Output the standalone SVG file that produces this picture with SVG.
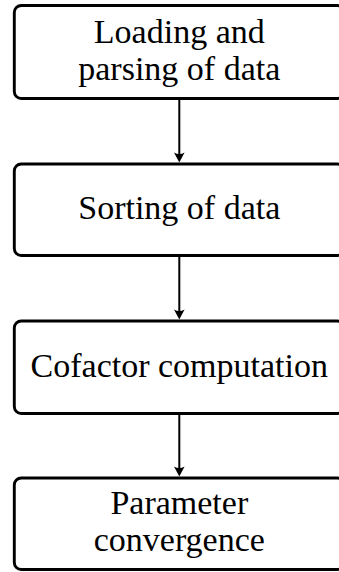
<svg xmlns="http://www.w3.org/2000/svg" width="339" height="572" viewBox="0 0 339 572">
  <defs>
    <style>
      .box { fill: #ffffff; stroke: #000000; stroke-width: 2.9; }
      .lbl { font-family: "Liberation Serif", "Times New Roman", serif; font-size: 34px; fill: #000000; text-anchor: middle; }
      .edge { stroke: #000000; stroke-width: 2; fill: none; }
      .head { fill: #000000; stroke: none; }
    </style>
  </defs>
  <rect width="339" height="572" fill="#ffffff"/>

  <!-- process steps -->
  <g id="load">
    <rect class="box" x="14.3" y="5.5" width="330" height="93" rx="7" ry="7"/>
    <text class="lbl" x="179.3" y="43">Loading and</text>
    <text class="lbl" x="179.3" y="80.3">parsing of data</text>
  </g>
  <g id="sort">
    <rect class="box" x="14.3" y="164" width="330" height="91.5" rx="7" ry="7"/>
    <text class="lbl" x="179.3" y="218.5">Sorting of data</text>
  </g>
  <g id="cofactor">
    <rect class="box" x="14.3" y="321" width="330" height="92.5" rx="7" ry="7"/>
    <text class="lbl" x="179.3" y="376.5">Cofactor computation</text>
  </g>
  <g id="converge">
    <rect class="box" x="14.3" y="478" width="330" height="91.5" rx="7" ry="7"/>
    <text class="lbl" x="179.3" y="513.5">Parameter</text>
    <text class="lbl" x="179.3" y="550.5">convergence</text>
  </g>

  <!-- connectors -->
  <g id="edges">
    <line class="edge" x1="179.3" y1="100" x2="179.3" y2="156"/>
    <path class="head" d="M179.3,162.5 L174,152.5 Q179.3,155.5 184.6,152.5 Z"/>
    <line class="edge" x1="179.3" y1="257" x2="179.3" y2="313"/>
    <path class="head" d="M179.3,319.5 L174,309.5 Q179.3,312.5 184.6,309.5 Z"/>
    <line class="edge" x1="179.3" y1="415" x2="179.3" y2="470"/>
    <path class="head" d="M179.3,476.5 L174,466.5 Q179.3,469.5 184.6,466.5 Z"/>
  </g>
</svg>
